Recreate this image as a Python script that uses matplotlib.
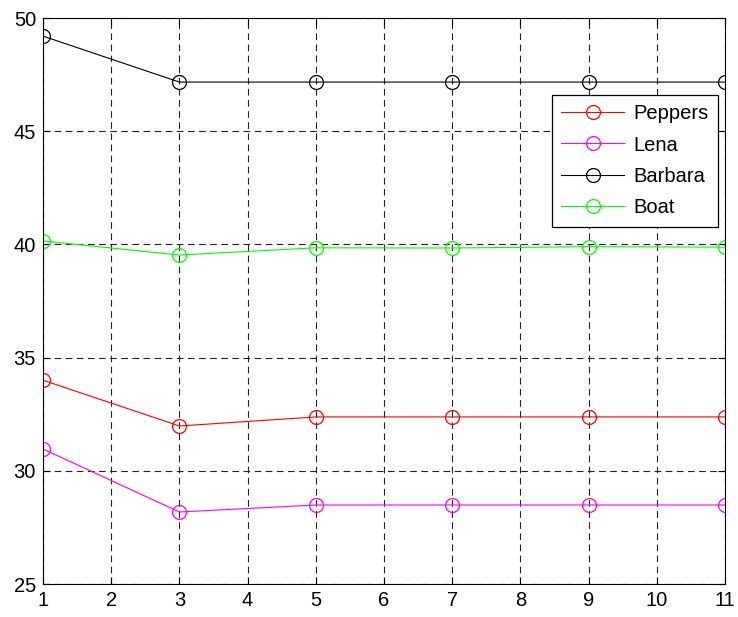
import matplotlib
matplotlib.use('Agg')
import matplotlib.pyplot as plt

plt.rcParams['font.family'] = ['Liberation Sans', 'DejaVu Sans']

x = [1, 3, 5, 7, 9, 11]
peppers = [34.0, 31.98, 32.38, 32.38, 32.38, 32.38]
lena = [30.96, 28.18, 28.49, 28.49, 28.49, 28.49]
barbara = [49.2, 47.17, 47.17, 47.17, 47.17, 47.17]
boat = [40.15, 39.53, 39.85, 39.84, 39.9, 39.88]
names = ['Peppers', 'Lena', 'Barbara', 'Boat']
colors = ['#ff0000', '#ff00ff', '#000000', '#00ff00']

fig = plt.figure(figsize=(7.38, 6.17), dpi=100)
ax = fig.add_axes([43/738, 33/617, 682/738, 566/617])

for ys, name, c in zip([peppers, lena, barbara, boat], names, colors):
    ax.plot(x, ys, color=c, lw=0.8, marker='o', mfc='none', mec=c, ms=10, mew=0.9, label=name)

ax.set_xlim(1, 11)
ax.set_ylim(25, 50)
ax.set_xticks(range(1, 12))
ax.set_yticks(range(25, 51, 5))
ax.grid(True, color='#222222', ls=(0, (6, 4)), lw=0.8)
ax.tick_params(direction='in', top=True, right=True, labelsize=14.5, length=5, width=0.8, pad=5)
for s in ax.spines.values():
    s.set_linewidth(0.8)

leg = ax.legend(loc='upper right', bbox_to_anchor=(0.99, 0.864), fontsize=14.5,
                fancybox=False, framealpha=1, edgecolor='black', borderpad=0.45,
                handlelength=3.1, handletextpad=0.5, labelspacing=0.62, borderaxespad=0)
leg.get_frame().set_linewidth(0.9)

fig.savefig('out.png', dpi=100)
